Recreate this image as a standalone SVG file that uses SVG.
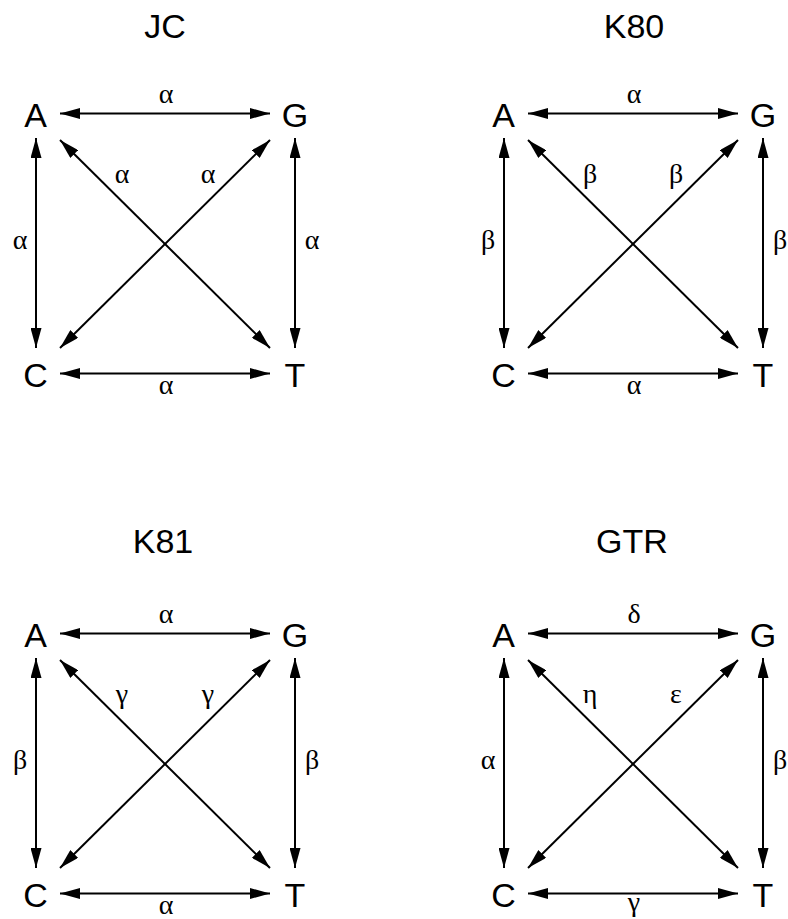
<svg xmlns="http://www.w3.org/2000/svg" width="788" height="919" viewBox="0 0 788 919">
<defs>
<style>
.t{font-family:"Liberation Sans",Arial,sans-serif;font-size:34px;fill:#000;text-anchor:middle}
.n{font-family:"Liberation Sans",Arial,sans-serif;font-size:34px;fill:#000;text-anchor:middle}
.g{font-family:"Liberation Serif","Times New Roman",serif;font-size:28px;fill:#000;text-anchor:middle}
.e{stroke:#000;stroke-width:2;fill:none;marker-start:url(#ah);marker-end:url(#ah)}
</style>
<marker id="ah" markerUnits="userSpaceOnUse" markerWidth="20" markerHeight="11" refX="20" refY="5.5" orient="auto-start-reverse" viewBox="0 0 20 11">
<path d="M0,0 L20,5.5 L0,11 z" fill="#000"/>
</marker>
</defs>
<rect width="788" height="919" fill="#fff"/>

<g id="jc" transform="translate(0,0)">
<text class="t" x="165" y="38">JC</text>
<g id="jc-A"><text class="n" x="35.5" y="127">A</text></g>
<g id="jc-G"><text class="n" x="295" y="127">G</text></g>
<g id="jc-C"><text class="n" x="35.5" y="387">C</text></g>
<g id="jc-T"><text class="n" x="295" y="387">T</text></g>
<g id="jc-edges">
<line class="e" x1="60" y1="113.5" x2="270" y2="113.5"/>
<line class="e" x1="60" y1="373.5" x2="270" y2="373.5"/>
<line class="e" x1="36" y1="138" x2="36" y2="348"/>
<line class="e" x1="295" y1="138" x2="295" y2="348"/>
<line class="e" x1="60" y1="140" x2="270" y2="348"/>
<line class="e" x1="60" y1="348" x2="270" y2="140"/>
<text class="g" x="166" y="103">α</text>
<text class="g" x="166" y="394">α</text>
<text class="g" x="20" y="249">α</text>
<text class="g" x="312" y="249">α</text>
<text class="g" x="122" y="183">α</text>
<text class="g" x="208" y="183">α</text>
</g>
</g>

<g id="k80" transform="translate(468,0)">
<text class="t" x="166" y="38">K80</text>
<g id="k80-A"><text class="n" x="35.5" y="127">A</text></g>
<g id="k80-G"><text class="n" x="295" y="127">G</text></g>
<g id="k80-C"><text class="n" x="35.5" y="387">C</text></g>
<g id="k80-T"><text class="n" x="295" y="387">T</text></g>
<g id="k80-edges">
<line class="e" x1="60" y1="113.5" x2="270" y2="113.5"/>
<line class="e" x1="60" y1="373.5" x2="270" y2="373.5"/>
<line class="e" x1="36" y1="138" x2="36" y2="348"/>
<line class="e" x1="295" y1="138" x2="295" y2="348"/>
<line class="e" x1="60" y1="140" x2="270" y2="348"/>
<line class="e" x1="60" y1="348" x2="270" y2="140"/>
<text class="g" x="166" y="103">α</text>
<text class="g" x="166" y="394">α</text>
<text class="g" x="20" y="249">β</text>
<text class="g" x="312" y="249">β</text>
<text class="g" x="122" y="183">β</text>
<text class="g" x="208" y="183">β</text>
</g>
</g>

<g id="k81" transform="translate(0,520)">
<text class="t" x="163" y="33">K81</text>
<g id="k81-A"><text class="n" x="35.5" y="127">A</text></g>
<g id="k81-G"><text class="n" x="295" y="127">G</text></g>
<g id="k81-C"><text class="n" x="35.5" y="387">C</text></g>
<g id="k81-T"><text class="n" x="295" y="387">T</text></g>
<g id="k81-edges">
<line class="e" x1="60" y1="113.5" x2="270" y2="113.5"/>
<line class="e" x1="60" y1="373.5" x2="270" y2="373.5"/>
<line class="e" x1="36" y1="138" x2="36" y2="348"/>
<line class="e" x1="295" y1="138" x2="295" y2="348"/>
<line class="e" x1="60" y1="140" x2="270" y2="348"/>
<line class="e" x1="60" y1="348" x2="270" y2="140"/>
<text class="g" x="166" y="103">α</text>
<text class="g" x="166" y="394">α</text>
<text class="g" x="20" y="249">β</text>
<text class="g" x="312" y="249">β</text>
<text class="g" x="122" y="183">γ</text>
<text class="g" x="208" y="183">γ</text>
</g>
</g>

<g id="gtr" transform="translate(468,520)">
<text class="t" x="164" y="33">GTR</text>
<g id="gtr-A"><text class="n" x="35.5" y="127">A</text></g>
<g id="gtr-G"><text class="n" x="295" y="127">G</text></g>
<g id="gtr-C"><text class="n" x="35.5" y="387">C</text></g>
<g id="gtr-T"><text class="n" x="295" y="387">T</text></g>
<g id="gtr-edges">
<line class="e" x1="60" y1="113.5" x2="270" y2="113.5"/>
<line class="e" x1="60" y1="373.5" x2="270" y2="373.5"/>
<line class="e" x1="36" y1="138" x2="36" y2="348"/>
<line class="e" x1="295" y1="138" x2="295" y2="348"/>
<line class="e" x1="60" y1="140" x2="270" y2="348"/>
<line class="e" x1="60" y1="348" x2="270" y2="140"/>
<text class="g" x="166" y="103">δ</text>
<text class="g" x="166" y="391">γ</text>
<text class="g" x="20" y="249">α</text>
<text class="g" x="312" y="249">β</text>
<text class="g" x="122" y="183">η</text>
<text class="g" x="208" y="183">ε</text>
</g>
</g>
</svg>
